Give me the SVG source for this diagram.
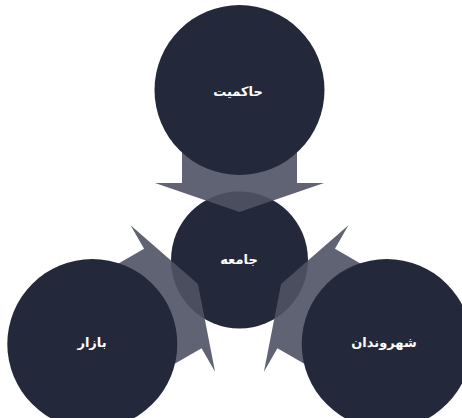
<svg xmlns="http://www.w3.org/2000/svg" width="462" height="418" viewBox="0 0 462 418">
  <style>
    .node { fill: #23283a; }
    .arrow { fill: #4f5264; fill-opacity: 0.9; }
    .label { fill: #ffffff; font-family: "DejaVu Sans", "Noto Sans", sans-serif; font-size: 13px; font-weight: bold; text-anchor: middle; direction: rtl; }
  </style>
  <defs>
    <!-- one chevron-headed arrow pointing down toward the hub -->
    <polygon id="arrowShape" points="182,110 182,183 155,183 239.5,212 324,183 297,183 297,110"/>
  </defs>

  <rect width="462" height="418" fill="#ffffff"/>

  <!-- hub -->
  <g id="node-jameh">
    <circle class="node" cx="239.5" cy="260" r="68.5"/>
  </g>

  <!-- arrows from the three outer circles into the hub -->
  <g id="connectors">
    <use href="#arrowShape" class="arrow"/>
    <use href="#arrowShape" class="arrow" transform="rotate(240 239.5 260)"/>
    <use href="#arrowShape" class="arrow" transform="rotate(120 239.5 260)"/>
  </g>

  <g id="node-jameh-label">
    <text class="label" x="239" y="264">جامعه</text>
  </g>

  <g id="node-hakemiyat">
    <circle class="node" cx="239.5" cy="90" r="85"/>
    <text class="label" x="238" y="96">حاکمیت</text>
  </g>

  <g id="node-bazar">
    <circle class="node" cx="92.3" cy="344" r="85"/>
    <text class="label" x="92" y="347">بازار</text>
  </g>

  <g id="node-shahrvandan">
    <circle class="node" cx="386.7" cy="344" r="85"/>
    <text class="label" x="384" y="347">شهروندان</text>
  </g>
</svg>
